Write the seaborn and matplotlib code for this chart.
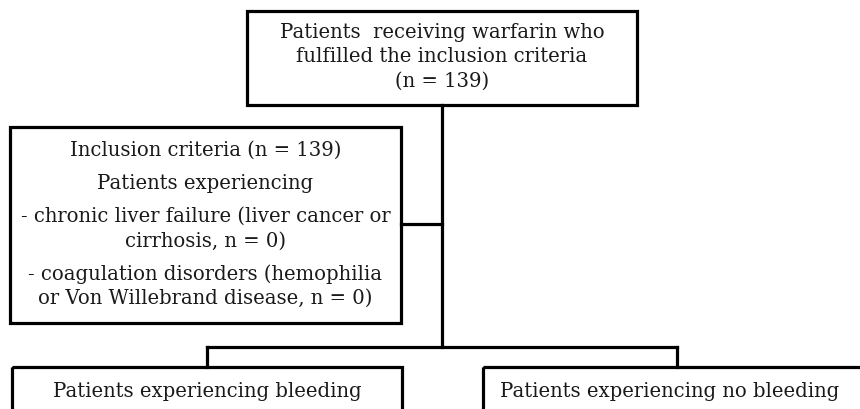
import matplotlib
matplotlib.use("Agg")
import matplotlib.pyplot as plt
from matplotlib.patches import Rectangle
import seaborn as sns

sns.set_style("white")
plt.rcParams['font.family'] = ['DejaVu Serif']

# Box geometry (pixel coordinates: left, top, right, bottom)
box_names = ["top", "criteria", "bleeding", "no_bleeding"]
box_left = [247, 10, 12, 483]
box_top = [12, 128, 368, 368]
box_right = [637, 401, 402, 870]
box_bottom = [106, 324, 430, 430]

# Text lines per box: (text, y-center)
top_lines = ["Patients  receiving warfarin who", "fulfilled the inclusion criteria", "(n = 139)"]
top_y = [33, 57, 81]
crit_lines = ["Inclusion criteria (n = 139)", "Patients experiencing",
              "- chronic liver failure (liver cancer or", "cirrhosis, n = 0)",
              "- coagulation disorders (hemophilia", "or Von Willebrand disease, n = 0)"]
crit_y = [150, 184, 216, 241, 274, 298]
bottom_lines = ["Patients experiencing bleeding", "Patients experiencing no bleeding"]
bottom_y = [392, 392]
bottom_x = [207, 670]

# Connectors (x0, y0, x1, y1)
connectors = [
    (442, 106, 442, 348),
    (401, 225, 442, 225),
    (207, 348, 677, 348),
    (207, 348, 207, 368),
    (677, 348, 677, 368),
]

fig = plt.figure(figsize=(8.6, 4.1), dpi=100)
ax = fig.add_axes([0, 0, 1, 1])
ax.set_xlim(0, 860)
ax.set_ylim(410, 0)
ax.axis("off")

lw = 2.3
for l, t, r, b in zip(box_left, box_top, box_right, box_bottom):
    ax.add_patch(Rectangle((l, t), r - l, b - t, fill=False, edgecolor="black", linewidth=lw))

for x0, y0, x1, y1 in connectors:
    ax.plot([x0, x1], [y0, y1], color="black", linewidth=lw, solid_capstyle="projecting")

fs = 14.1
tc = "#1a1a1a"
cx_top = (box_left[0] + box_right[0]) / 2
for s, y in zip(top_lines, top_y):
    ax.text(cx_top, y, s, ha="center", va="center", fontsize=fs, color=tc)
cx_crit = (box_left[1] + box_right[1]) / 2
for s, y in zip(crit_lines, crit_y):
    ax.text(cx_crit, y, s, ha="center", va="center", fontsize=fs, color=tc)
for s, x, y in zip(bottom_lines, bottom_x, bottom_y):
    ax.text(x, y, s, ha="center", va="center", fontsize=fs, color=tc)

fig.savefig("out.png", dpi=100)
